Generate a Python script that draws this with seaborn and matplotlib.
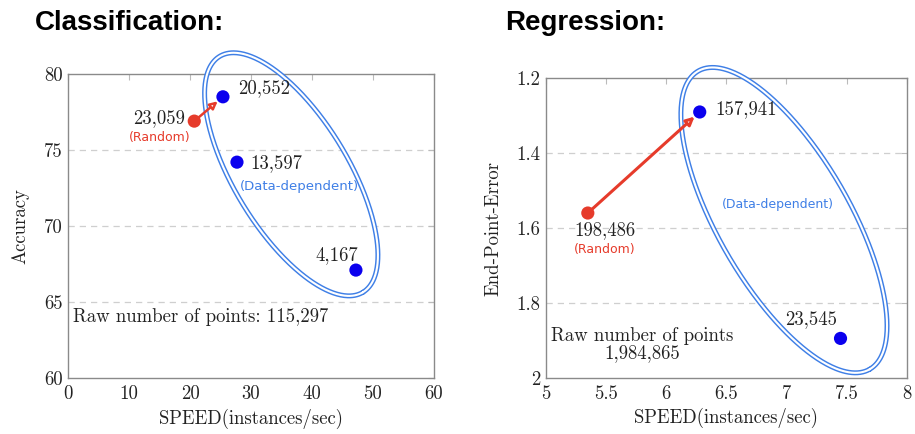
import numpy as np
import pandas as pd
import matplotlib
matplotlib.use("Agg")
import matplotlib.pyplot as plt
import seaborn as sns

# ==============================
# DATA
# ==============================
cls_kind = ["Random", "Data-dependent", "Data-dependent", "Data-dependent"]
cls_speed = [20.7, 25.4, 27.7, 47.2]
cls_accuracy = [76.9, 78.5, 74.2, 67.1]
cls_count = ["23,059", "20,552", "13,597", "4,167"]
cls_raw = "115,297"

reg_kind = ["Random", "Data-dependent", "Data-dependent"]
reg_speed = [5.35, 6.28, 7.45]
reg_epe = [1.56, 1.29, 1.895]
reg_count = ["198,486", "157,941", "23,545"]
reg_raw = "1,984,865"

cls_xticks = [0, 10, 20, 30, 40, 50, 60]
cls_yticks = [60, 65, 70, 75, 80]
reg_xticks = [5, 5.5, 6, 6.5, 7, 7.5, 8]
reg_yticks = [1.2, 1.4, 1.6, 1.8, 2.0]

RED = "#e63b2b"
BLUE = "#0b00ee"
RING = "#3f7fe6"
palette = {"Random": RED, "Data-dependent": BLUE}

# ==============================
# STYLE
# ==============================
sns.set_theme(style="white")
plt.rcParams["font.family"] = ["cmr10", "DejaVu Serif"]
plt.rcParams["axes.formatter.use_mathtext"] = True
plt.rcParams["axes.unicode_minus"] = False

fig = plt.figure(figsize=(9.15, 4.34), dpi=100)
ax1 = fig.add_axes([68 / 915, 56 / 434, 366 / 915, 304 / 434])
ax2 = fig.add_axes([545.7 / 915, 56.3 / 434, 361 / 915, 299.4 / 434])


def style_axes(ax, xticks, yticks, xlim, ylim):
    ax.set_xlim(*xlim)
    ax.set_ylim(*ylim)
    ax.set_xticks(xticks)
    ax.set_yticks(yticks)
    ax.set_xticklabels([f"{t:g}" for t in xticks])
    ax.set_yticklabels([f"{t:g}" for t in yticks])
    ax.tick_params(direction="in", length=4, width=0.8, color="#bbbbbb",
                   top=True, right=True, labelsize=13.5, labelcolor="#222222")
    ax.tick_params(axis="x", pad=5)
    ax.tick_params(axis="y", pad=4)
    for s in ax.spines.values():
        s.set_color("#8a8a8a")
        s.set_linewidth(1.0)
    inner = [t for t in yticks if min(ylim) < t < max(ylim)]
    for t in inner:
        ax.axhline(t, color="#cfcfcf", lw=0.9, ls=(0, (5, 4)), zorder=0)


def draw_ring(ax, cx, cy, a, b, angle_deg):
    # double-line ellipse drawn in screen pixels around a data centre
    t = np.linspace(0, 2 * np.pi, 500)
    th = np.deg2rad(angle_deg)
    dx = a * np.cos(t) * np.cos(th) - b * np.sin(t) * np.sin(th)
    dy = a * np.cos(t) * np.sin(th) + b * np.sin(t) * np.cos(th)
    c = ax.transData.transform((cx, cy))
    pts = ax.transData.inverted().transform(np.column_stack([c[0] + dx, c[1] + dy]))
    ax.plot(pts[:, 0], pts[:, 1], color=RING, lw=3.6, clip_on=False, zorder=3)
    ax.plot(pts[:, 0], pts[:, 1], color="white", lw=1.5, clip_on=False, zorder=3)


# ==============================
# CLASSIFICATION PANEL
# ==============================
style_axes(ax1, cls_xticks, cls_yticks, (0, 60), (60, 80))
draw_ring(ax1, 36.6, 73.4, 138, 57, -58.7)

df_cls = pd.DataFrame({"kind": cls_kind, "speed": cls_speed, "acc": cls_accuracy})
sns.scatterplot(data=df_cls, x="speed", y="acc", hue="kind", palette=palette,
                s=90, edgecolor="none", legend=False, ax=ax1, zorder=5)

ax1.annotate("", xy=(cls_speed[1], cls_accuracy[1]), xytext=(cls_speed[0], cls_accuracy[0]),
             arrowprops=dict(arrowstyle="-|>", color=RED, fc="white", lw=1.8,
                             mutation_scale=11, shrinkA=2, shrinkB=5), zorder=4)

lab_off = [(-7, 2, "right", "center"), (11, 6, "left", "center"),
           (9.5, -1, "left", "center"), (-14, 11, "center", "center")]
for i, (ox, oy, ha, va) in enumerate(lab_off):
    ax1.annotate(cls_count[i], (cls_speed[i], cls_accuracy[i]), xytext=(ox, oy),
                 textcoords="offset points", ha=ha, va=va, fontsize=13.5, color="#222222")
ax1.annotate("(Random)", (cls_speed[0], cls_accuracy[0]), xytext=(-25, -12),
             textcoords="offset points", ha="center", va="center", fontsize=9,
             color=RED, family="DejaVu Sans")
ax1.annotate("(Data-dependent)", (cls_speed[2], cls_accuracy[2]), xytext=(45, -17.5),
             textcoords="offset points", ha="center", va="center", fontsize=9.5,
             color=RING, family="DejaVu Sans")
ax1.text(0.015, 0.2, f"Raw number of points: {cls_raw}", transform=ax1.transAxes,
         ha="left", va="center", fontsize=13.5, color="#222222")

ax1.set_xlabel("SPEED(instances/sec)", fontsize=13.5, color="#222222")
ax1.set_ylabel("Accuracy", fontsize=13.5, color="#222222")
ax1.xaxis.set_label_coords(0.5, -0.1)
ax1.yaxis.set_label_coords(-0.105, 0.5)

# ==============================
# REGRESSION PANEL
# ==============================
style_axes(ax2, reg_xticks, reg_yticks, (5, 8), (2.0, 1.2))
draw_ring(ax2, 6.98, 1.579, 172, 66, -60.1)

df_reg = pd.DataFrame({"kind": reg_kind, "speed": reg_speed, "epe": reg_epe})
sns.scatterplot(data=df_reg, x="speed", y="epe", hue="kind", palette=palette,
                s=90, edgecolor="none", legend=False, ax=ax2, zorder=5)

ax2.annotate("", xy=(reg_speed[1], reg_epe[1]), xytext=(reg_speed[0], reg_epe[0]),
             arrowprops=dict(arrowstyle="-|>", color=RED, fc="white", lw=2.2,
                             mutation_scale=12, shrinkA=2, shrinkB=5), zorder=4)

lab_off = [(12, -12, "center", "center"), (11.5, 2, "left", "center"),
           (-21, 14, "center", "center")]
for i, (ox, oy, ha, va) in enumerate(lab_off):
    ax2.annotate(reg_count[i], (reg_speed[i], reg_epe[i]), xytext=(ox, oy),
                 textcoords="offset points", ha=ha, va=va, fontsize=13.5, color="#222222")
ax2.annotate("(Random)", (reg_speed[0], reg_epe[0]), xytext=(12, -26.5),
             textcoords="offset points", ha="center", va="center", fontsize=9,
             color=RED, family="DejaVu Sans")
ax2.text(0.643, 0.58, "(Data-dependent)", transform=ax2.transAxes, ha="center",
         va="center", fontsize=9, color=RING, family="DejaVu Sans")
ax2.text(0.266, 0.14, "Raw number of points", transform=ax2.transAxes,
         ha="center", va="center", fontsize=13.5, color="#222222")
ax2.text(0.266, 0.083, reg_raw, transform=ax2.transAxes,
         ha="center", va="center", fontsize=13.5, color="#222222")

ax2.set_xlabel("SPEED(instances/sec)", fontsize=13.5, color="#222222")
ax2.set_ylabel("End-Point-Error", fontsize=13.5, color="#222222")
ax2.xaxis.set_label_coords(0.5, -0.1)
ax2.yaxis.set_label_coords(-0.12, 0.5)

# ==============================
# PANEL TITLES
# ==============================
fig.text(35 / 915, 1 - 30 / 434, "Classification:", fontsize=20, fontweight="bold",
         family="Liberation Sans", color="black", ha="left", va="baseline")
fig.text(505 / 915, 1 - 30 / 434, "Regression:", fontsize=20, fontweight="bold",
         family="Liberation Sans", color="black", ha="left", va="baseline")

fig.savefig("out.png", dpi=100)
